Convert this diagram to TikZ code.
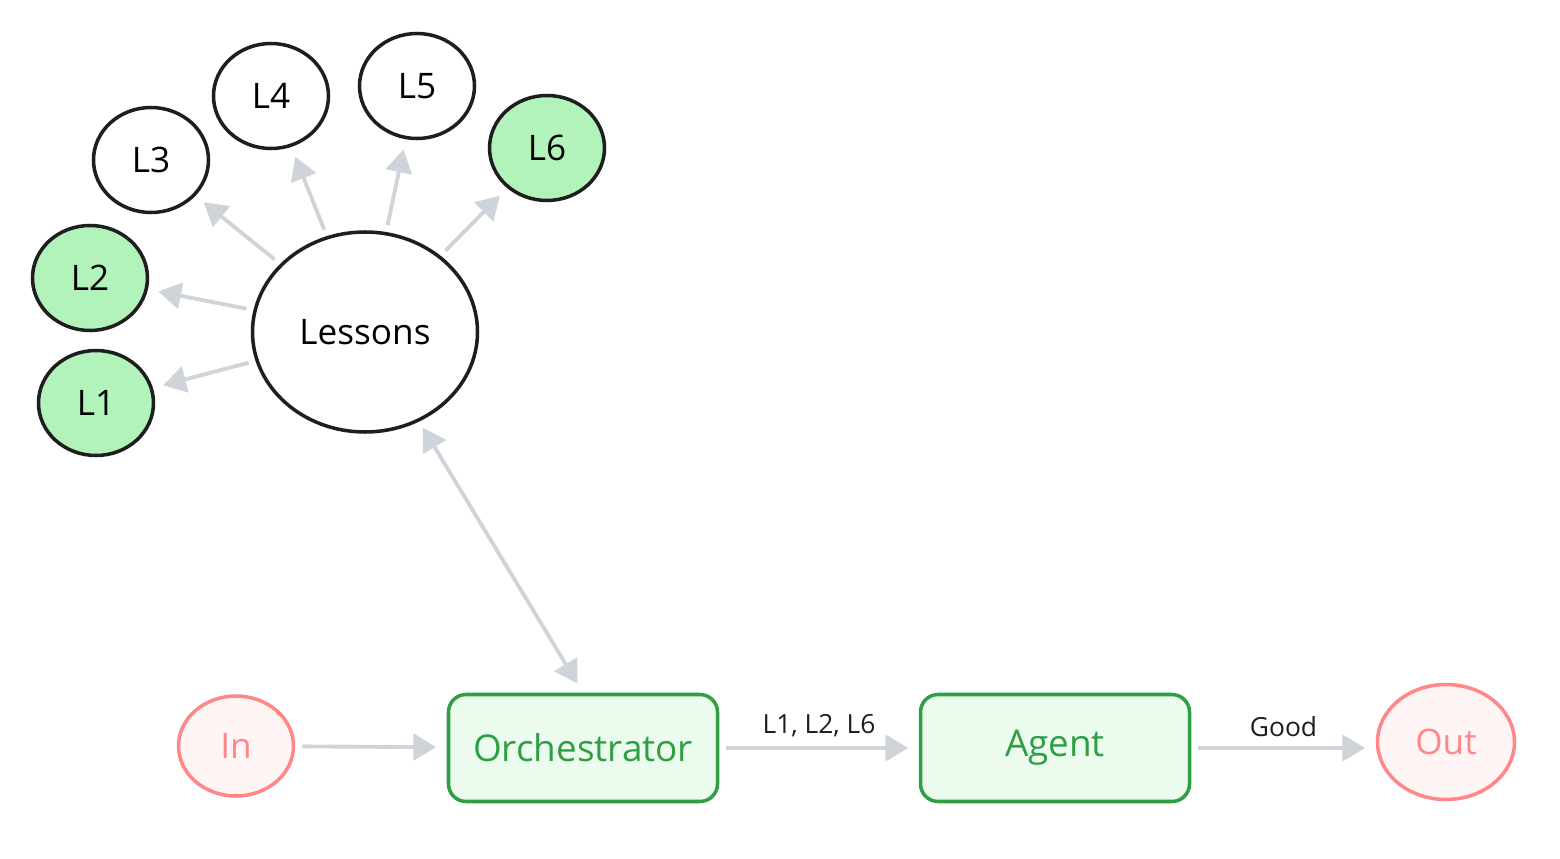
\documentclass[tikz,border=0pt]{standalone}
\usepackage{fontspec}
\setmainfont{Open Sans}
\usepackage{xcolor}
\definecolor{ink}{RGB}{30, 30, 30}
\definecolor{leaf}{RGB}{178, 242, 187}
\definecolor{verde}{RGB}{47, 158, 68}
\definecolor{verdeclaro}{RGB}{235, 251, 238}
\definecolor{rojo}{RGB}{255, 135, 135}
\definecolor{rojoclaro}{RGB}{255, 245, 245}
\definecolor{gris}{RGB}{206, 212, 218}
\usepackage{tikz}
\usetikzlibrary{positioning, shapes.geometric, arrows.meta}

\begin{document}
\begin{tikzpicture}[
  lesson/.style={ellipse, draw=ink, fill=white, line width=2pt, font=\fontsize{20}{22}\selectfont, minimum width=2.3cm, minimum height=2.1cm, inner sep=0pt},
  picked/.style={lesson, fill=leaf},
  hub/.style={lesson, minimum width=4.5cm, minimum height=4.0cm},
  task/.style={rectangle, rounded corners=10pt, draw=verde, fill=verdeclaro, line width=2pt, text=verde, font=\fontsize{21}{24}\selectfont, minimum width=5.38cm, minimum height=2.14cm},
  io/.style={ellipse, draw=rojo, fill=rojoclaro, line width=2pt, text=rojo, font=\fontsize{20}{22}\selectfont, minimum width=2.3cm, minimum height=2.0cm, inner sep=0pt},
  arr/.style={-{Triangle[length=13pt, width=15pt]}, line width=2.2pt, gris, shorten <=4pt, shorten >=6pt}
]
  \useasboundingbox (0,0) rectangle (31.2,-17.18);

  % lessons hub
  \node[hub] (lessons) at (7.30,-6.64) {Lessons};
  \node[picked] (l1) at (1.92,-8.06) {L1};
  \node[picked] (l2) at (1.80,-5.56) {L2};
  \node[lesson] (l3) at (3.02,-3.20) {L3};
  \node[lesson] (l4) at (5.42,-1.92) {L4};
  \node[lesson] (l5) at (8.34,-1.72) {L5};
  \node[picked] (l6) at (10.94,-2.96) {L6};

  % pipeline
  \node[io] (in) at (4.72,-14.92) {In};
  \node[task] (orch) at (11.66,-14.96) {Orchestrator};
  \node[task] (agent) at (21.10,-14.96) {Agent};
  \node[io, minimum width=2.74cm, minimum height=2.3cm] (out) at (28.92,-14.84) {Out};

  \foreach \l in {l1,l2,l3,l4,l5,l6}
    \draw[arr] (lessons) -- (\l);

  \draw[arr, {Triangle[length=13pt, width=15pt]}-{Triangle[length=13pt, width=15pt]}] (lessons) -- (orch.north);
  \draw[arr] (in) -- (orch);
  \draw[arr] (orch) -- node[above=2pt, text=ink, font=\fontsize{15}{17}\selectfont]{L1, L2, L6} (agent);
  \draw[arr] (agent) -- node[above=2pt, text=ink, font=\fontsize{15}{17}\selectfont]{Good} (out.west |- agent);
\end{tikzpicture}
\end{document}
